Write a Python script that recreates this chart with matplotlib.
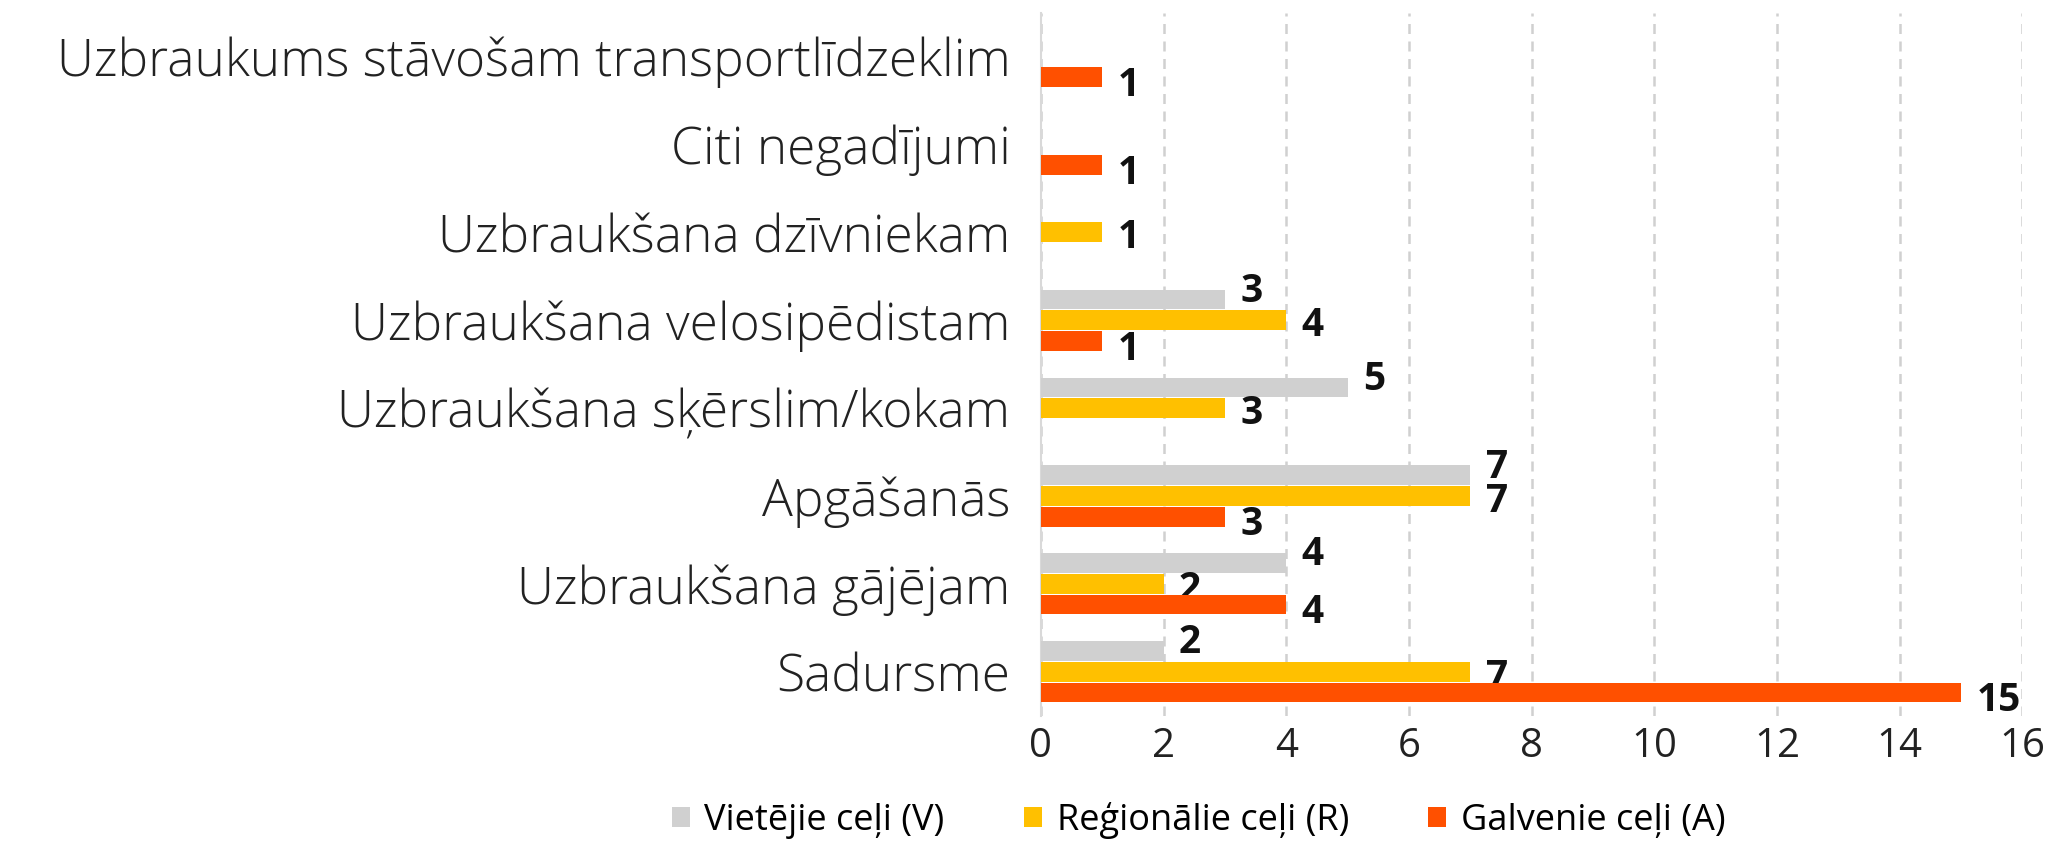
import numpy as np
import matplotlib
matplotlib.use('Agg')
import matplotlib.pyplot as plt
from matplotlib.ticker import MultipleLocator

# %% data (top to bottom as shown)
categories = ['Uzbraukums stāvošam transportlīdzeklim', 'Citi negadījumi',
              'Uzbraukšana dzīvniekam', 'Uzbraukšana velosipēdistam',
              'Uzbraukšana sķērslim/kokam', 'Apgāšanās',
              'Uzbraukšana gājējam', 'Sadursme']
vietejie = [0, 0, 0, 3, 5, 7, 4, 2]
regionalie = [0, 0, 1, 4, 3, 7, 2, 7]
galvenie = [1, 1, 0, 1, 0, 3, 4, 15]
series_names = ['Vietējie ceļi (V)', 'Reģionālie ceļi (R)', 'Galvenie ceļi (A)']
colors = ['#D0D0D0', '#FFC000', '#FF5000']

plt.rcParams['font.family'] = ['Open Sans', 'DejaVu Sans']

fig = plt.figure(figsize=(20.49, 8.42), dpi=100)
ax = fig.add_axes([0.508, 0.15, 0.479, 0.835])

y = np.arange(len(categories))
h = 0.225
off = 0.235
label_dy = [6, -4, -6]   # small vertical nudge of the value labels per series
for k, (vals, c, nm) in enumerate(zip([vietejie, regionalie, galvenie], colors, series_names)):
    yy = y + (k - 1) * off
    bars = ax.barh(yy, vals, height=h, color=c, label=nm, zorder=3)
    for b, v in zip(bars, vals):
        if v > 0:
            ax.annotate(str(v), (v, b.get_y() + b.get_height() / 2),
                        xytext=(11, label_dy[k]), textcoords='offset points',
                        ha='left', va='center', fontsize=28, fontweight='bold',
                        color='#111111')

ax.set_yticks(y)
ax.set_yticklabels(categories, fontsize=37, fontweight='light', color='#222222')
ax.set_ylim(len(categories) - 0.5, -0.5)
ax.set_xlim(0, 16)
ax.xaxis.set_major_locator(MultipleLocator(2))
ax.tick_params(axis='x', labelsize=29, length=0, pad=8, labelcolor='#222222')
ax.tick_params(axis='y', length=0, pad=22)
ax.grid(axis='x', linestyle=(0, (4, 3)), color='#D0D0D0', linewidth=1.8, zorder=0)
for s in ['top', 'right', 'bottom']:
    ax.spines[s].set_visible(False)
ax.spines['left'].set_color('#D9D9D9')
ax.spines['left'].set_linewidth(1.5)

leg = fig.legend(loc='lower center', bbox_to_anchor=(0.585, -0.035), ncol=3,
                 frameon=False, fontsize=26, handlelength=0.5, handleheight=0.5,
                 handletextpad=0.4, columnspacing=2.2)

plt.savefig('out.png', dpi=100)
